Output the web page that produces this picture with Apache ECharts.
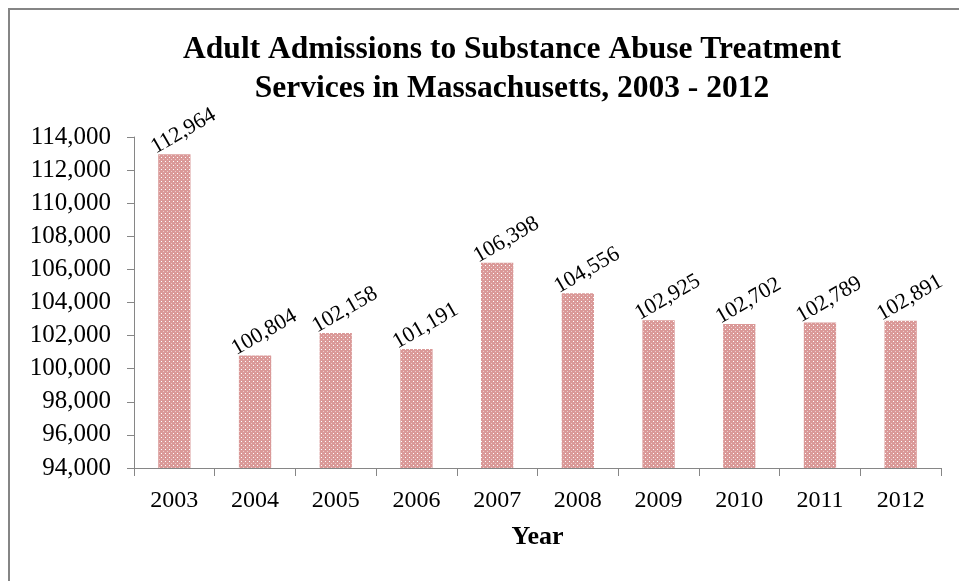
<!DOCTYPE html>
<html>
<head>
<meta charset="utf-8">
<script src="https://cdn.jsdelivr.net/npm/echarts@6/dist/echarts.min.js"></script>
<style>
  html, body { margin: 0; padding: 0; background: #fff; }
  #chart { width: 959px; height: 581px; }
</style>
</head>
<body>
<div id="chart"></div>
<script>
// Admissions per year
const years = ['2003', '2004', '2005', '2006', '2007', '2008', '2009', '2010', '2011', '2012'];
const admissions = [112964, 100804, 102158, 101191, 106398, 104556, 102925, 102702, 102789, 102891];
const yMin = 94000;
const yMax = 114000;
const yStep = 2000;

// Dotted pink fill for the bars
function dotPattern() {
  const c = document.createElement('canvas');
  c.width = 4; c.height = 4;
  const ctx = c.getContext('2d');
  ctx.fillStyle = '#da9998';
  ctx.fillRect(0, 0, 4, 4);
  ctx.fillStyle = '#ffffff';
  ctx.fillRect(1, 1, 1, 1);
  ctx.fillStyle = 'rgba(255,255,255,0.5)';
  ctx.fillRect(3, 3, 1, 1);
  return c;
}

const serif = '"Liberation Serif", "Times New Roman", serif';
const chart = echarts.init(document.getElementById('chart'));
const fmt = v => v.toLocaleString('en-US');

chart.setOption({
  animation: false,
  backgroundColor: '#fff',
  title: {
    text: 'Adult Admissions to Substance Abuse Treatment\nServices in Massachusetts, 2003 - 2012',
    left: 507,
    textAlign: 'center',
    top: 25,
    textStyle: {
      fontFamily: serif,
      fontWeight: 'bold',
      fontSize: 31.5,
      lineHeight: 39,
      color: '#000'
    }
  },
  graphic: [
    { type: 'line', shape: { x1: 8, y1: 9, x2: 959, y2: 9 }, style: { stroke: '#858585', lineWidth: 2 } },
    { type: 'line', shape: { x1: 9, y1: 8, x2: 9, y2: 581 }, style: { stroke: '#858585', lineWidth: 2 } }
  ],
  grid: { left: 134, right: 18, top: 137, bottom: 113 },
  xAxis: {
    type: 'category',
    data: years,
    name: 'Year',
    nameLocation: 'middle',
    nameGap: 56,
    nameTextStyle: { fontFamily: serif, fontWeight: 'bold', fontSize: 26, color: '#000' },
    axisLine: { lineStyle: { color: '#868686', width: 1 } },
    axisTick: { show: true, length: 8, lineStyle: { color: '#868686' } },
    axisLabel: { fontFamily: serif, fontSize: 24, color: '#000', margin: 21 }
  },
  yAxis: {
    type: 'value',
    min: yMin,
    max: yMax,
    interval: yStep,
    splitLine: { show: false },
    axisLine: { show: true, lineStyle: { color: '#868686', width: 1 } },
    axisTick: { show: true, length: 7, lineStyle: { color: '#868686' } },
    axisLabel: { fontFamily: serif, fontSize: 25, color: '#000', margin: 23, formatter: fmt }
  },
  series: [{
    type: 'bar',
    data: admissions,
    barWidth: '40%',
    itemStyle: { color: { image: dotPattern(), repeat: 'repeat' } },
    label: {
      show: true,
      position: 'top',
      rotate: 30,
      distance: 5,
      offset: [17, 0],
      fontFamily: serif,
      fontSize: 22,
      color: '#000',
      formatter: p => fmt(p.value)
    }
  }]
});
</script>
</body>
</html>
